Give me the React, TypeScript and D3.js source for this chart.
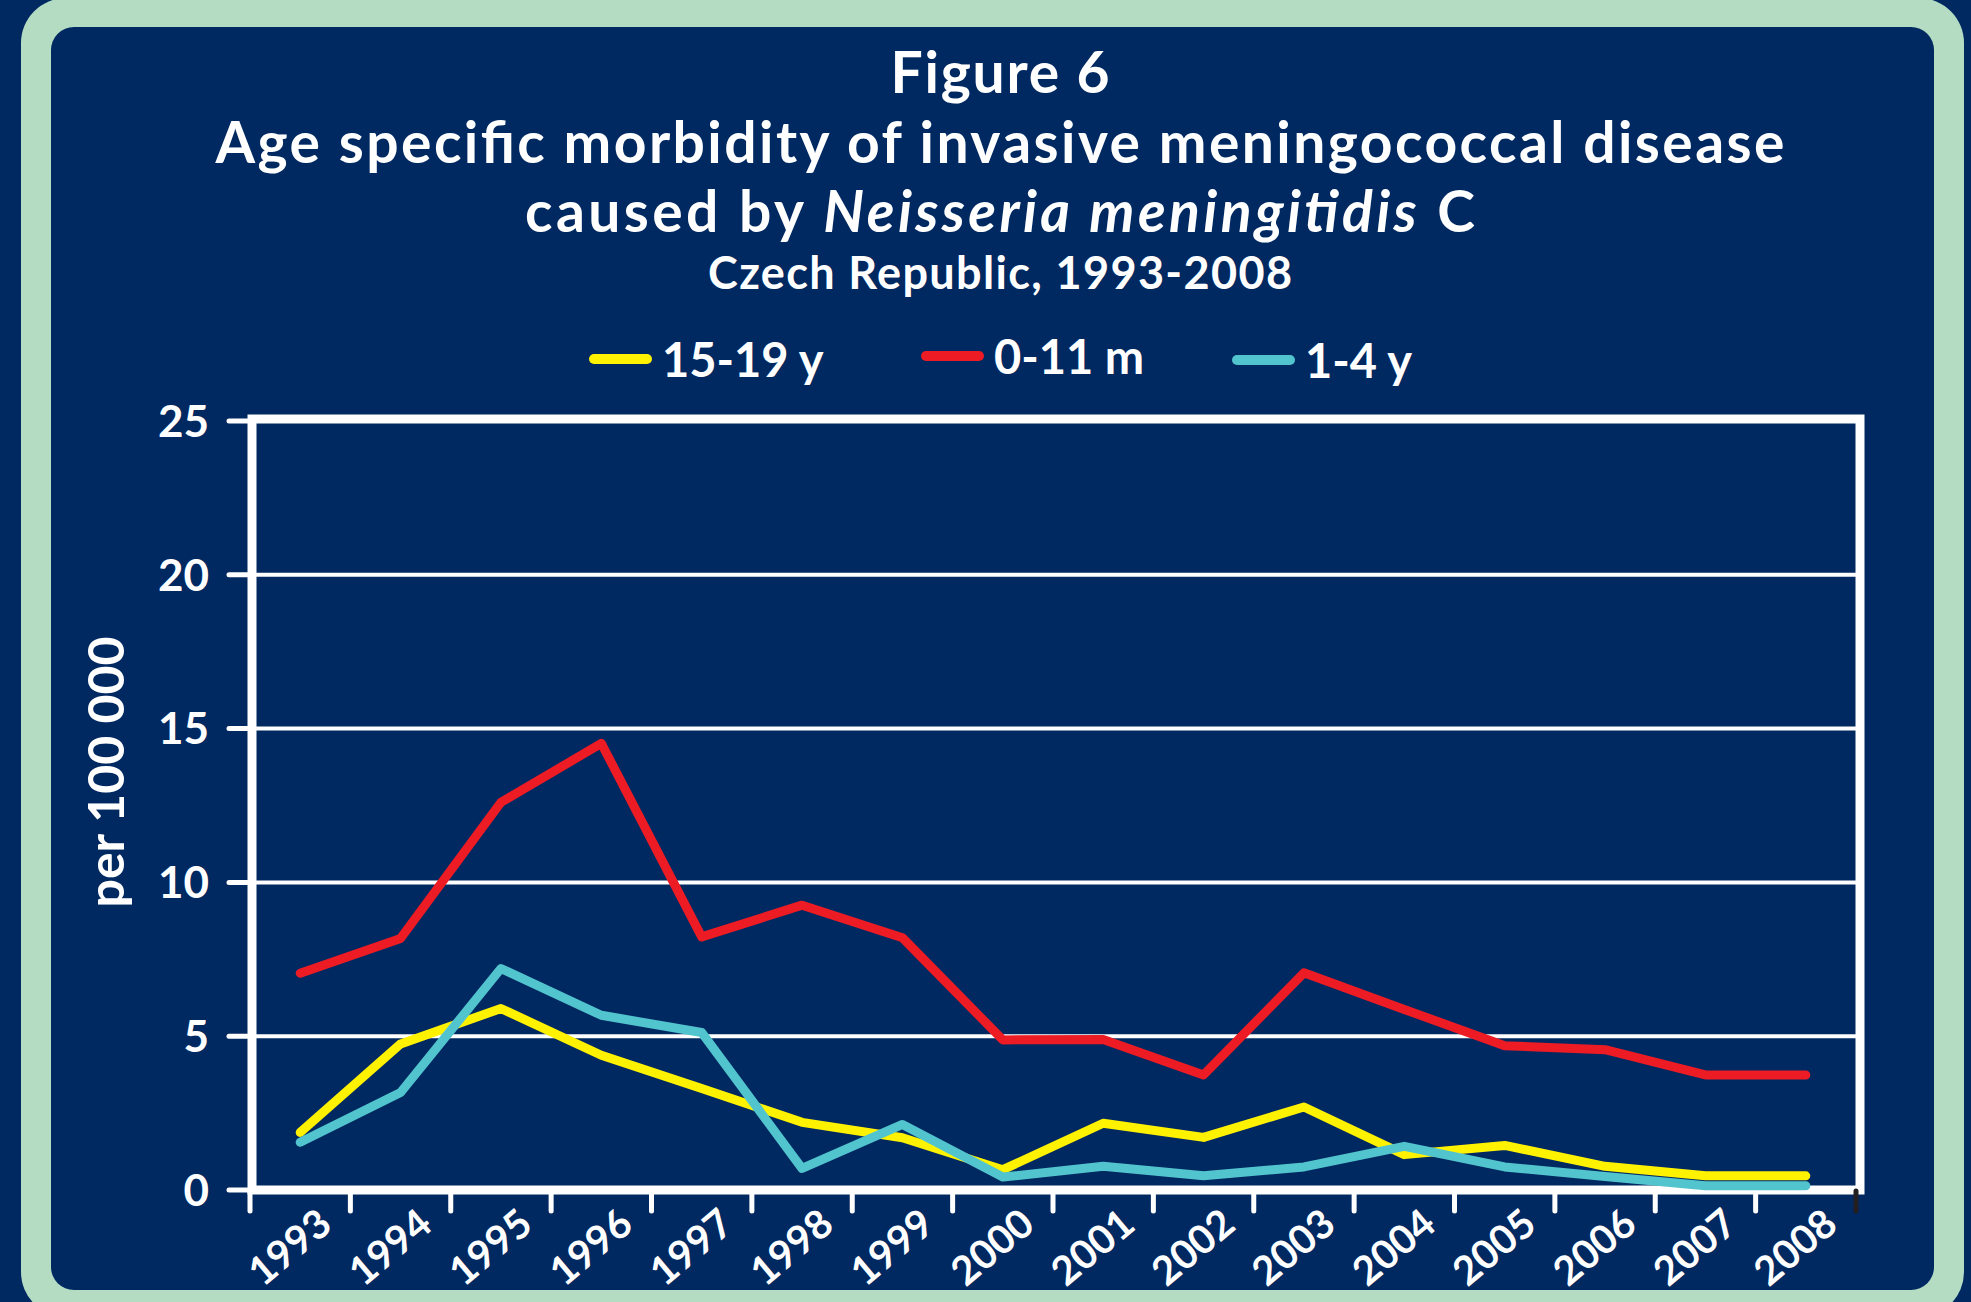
import React from "react";
import * as d3 from "d3";

const years = ["1993", "1994", "1995", "1996", "1997", "1998", "1999", "2000", "2001", "2002", "2003", "2004", "2005", "2006", "2007", "2008"];
// per 100 000
const teens = [1.87, 4.75, 5.9, 4.38, 3.3, 2.2, 1.7, 0.66, 2.17, 1.71, 2.7, 1.15, 1.45, 0.77, 0.46, 0.46];
const infants = [7.05, 8.18, 12.6, 14.52, 8.23, 9.26, 8.2, 4.88, 4.89, 3.74, 7.06, 5.87, 4.69, 4.56, 3.74, 3.74];
const toddlers = [1.55, 3.17, 7.2, 5.68, 5.12, 0.7, 2.13, 0.42, 0.77, 0.46, 0.75, 1.42, 0.75, 0.44, 0.14, 0.14];
const seriesNames = ["15-19 y", "0-11 m", "1-4 y"];
const seriesColors = ["#FFF200", "#ED1C24", "#52C4CE"];
const yTicks = [0, 5, 10, 15, 20, 25];

const W = 1971;
const H = 1302;
const navy = "#002861";
const green = "#B3DCC3";
const font = "Lato, 'Open Sans', sans-serif";

export default function App() {
  const x = d3.scaleBand().domain(years).range([250, 1856]);
  const y = d3.scaleLinear().domain([0, 25]).range([1190, 421]);
  const cx = (i: number) => (x(years[i]) as number) + x.bandwidth() / 2;

  const line = d3.line<number>()
    .x((d, i) => cx(i))
    .y(d => y(d));

  const data = [teens, infants, toddlers];
  const legendX = [589, 921, 1232];
  const legendY = [359, 356, 360];
  const legendTextY = [377, 374, 378];

  const boundaries = d3.range(years.length + 1).map(i =>
    i < years.length ? (x(years[i]) as number) : x.range()[1]
  );

  return (
    <svg width={W} height={H} style={{ position: "absolute", left: 0, top: 0, display: "block" }}>
      <rect x={0} y={0} width={W} height={H} fill={navy} />
      <rect x={21} y={-2} width={1943} height={1319} rx={45} fill={green} />
      <rect x={51} y={27} width={1883} height={1263} rx={23} fill={navy} />

      {/* title: narrower Calibri in the original, so stretch spacing to its widths */}
      <g fill="#fff" fontFamily={font} fontWeight="bold" textAnchor="middle">
        <text x={1000} y={93} fontSize={57} textLength={219} lengthAdjust="spacing">Figure 6</text>
        <text x={1000} y={163} fontSize={57} textLength={1569} lengthAdjust="spacing">
          Age specific morbidity of invasive meningococcal disease
        </text>
        <text x={1000} y={232} fontSize={57} textLength={950} lengthAdjust="spacing">
          caused by <tspan fontStyle="italic">Neisseria meningitidis</tspan> C
        </text>
        <text x={1000} y={289} fontSize={45} textLength={584} lengthAdjust="spacing">Czech Republic, 1993-2008</text>
      </g>

      {seriesNames.map((name, i) => (
        <g key={name}>
          <line x1={legendX[i] + 5} x2={legendX[i] + 58} y1={legendY[i]} y2={legendY[i]}
            stroke={seriesColors[i]} strokeWidth={10} strokeLinecap="round" />
          <text x={legendX[i] + 73} y={legendTextY[i]} fill="#fff" fontFamily={font}
            fontWeight="bold" fontSize={47}>{name}</text>
        </g>
      ))}

      {/* gridlines */}
      {yTicks.filter(t => t > 0 && t < 25).map(t => (
        <line key={t} x1={252} x2={1860} y1={y(t)} y2={y(t)} stroke="#fff" strokeWidth={4} />
      ))}
      <rect x={252} y={419} width={1608} height={771} fill="none" stroke="#fff" strokeWidth={9} />

      {/* y axis */}
      {yTicks.map(t => (
        <g key={t}>
          <line x1={229} x2={250} y1={y(t)} y2={y(t)} stroke="#fff" strokeWidth={5} strokeLinecap="round" />
          <text x={209} y={y(t)} dy="0.36em" textAnchor="end" fill="#fff" fontFamily={font}
            fontWeight="bold" fontSize={44}>{t}</text>
        </g>
      ))}
      <text transform="translate(124,772) rotate(-90)" textAnchor="middle" fill="#fff"
        fontFamily={font} fontWeight="bold" fontSize={50}>per 100 000</text>

      {/* x axis */}
      {boundaries.map((b, i) => (
        <line key={i} x1={b} x2={b} y1={1191} y2={1211}
          stroke={i === boundaries.length - 1 ? "#231F20" : "#fff"} strokeWidth={5} strokeLinecap="round" />
      ))}
      {years.map((yr, i) => (
        <text key={yr} transform={`translate(${cx(i) + 34},${1228}) rotate(-40)`} textAnchor="end"
          fill="#fff" fontFamily={font} fontWeight="bold" fontSize={40}>{yr}</text>
      ))}

      {/* series */}
      {data.map((d, i) => (
        <path key={i} d={line(d) as string} fill="none" stroke={seriesColors[i]}
          strokeWidth={9} strokeLinecap="round" strokeLinejoin="round" />
      ))}
    </svg>
  );
}
